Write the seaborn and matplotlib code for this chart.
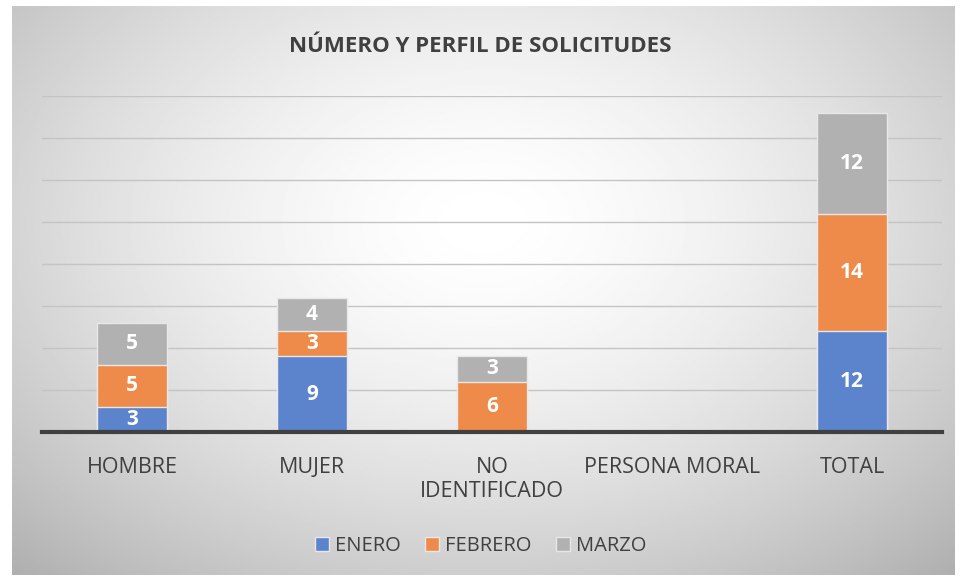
import numpy as np
import pandas as pd
import seaborn as sns
import matplotlib.pyplot as plt
from matplotlib.patches import Patch

# datos del grafico
categorias = ['HOMBRE', 'MUJER', 'NO\nIDENTIFICADO', 'PERSONA MORAL', 'TOTAL']
enero = [3, 9, 0, 0, 12]
febrero = [5, 3, 6, 0, 14]
marzo = [5, 4, 3, 0, 12]
meses = ['ENERO', 'FEBRERO', 'MARZO']
colores = ['#5b84cd', '#ee8b4a', '#b1b1b1']

sns.set_theme(style='white')
plt.rcParams['font.family'] = ['Open Sans', 'DejaVu Sans']

fig = plt.figure(figsize=(9.61, 5.8), dpi=100)

# fondo con degradado radial
bg = fig.add_axes([12 / 961, 5 / 580, 943 / 961, 569 / 580], zorder=0)
yy, xx = np.mgrid[0:1:300j, 0:1:500j]
r = np.sqrt(((xx - 0.5) / 0.75) ** 2 + ((yy - 0.38) / 0.85) ** 2)
grad = np.clip(1 - 0.32 * r ** 1.6, 0, 1)
bg.imshow(grad, cmap='gray', vmin=0, vmax=1, aspect='auto', extent=[0, 1, 0, 1], origin='upper')
bg.axis('off')

ax = fig.add_axes([42 / 961, 1 - 432 / 580, 900 / 961, 336 / 580], zorder=1)
ax.patch.set_alpha(0)

df = pd.DataFrame({'cat': categorias, 'ENERO': enero, 'FEBRERO': febrero, 'MARZO': marzo})
df['c1'] = df['ENERO']
df['c2'] = df['ENERO'] + df['FEBRERO']
df['c3'] = df['c2'] + df['MARZO']

# barras apiladas: primero el total, luego se tapan las capas de abajo
for col, color in zip(['c3', 'c2', 'c1'], colores[::-1]):
    sns.barplot(data=df, x='cat', y=col, color=color, width=0.39, ax=ax,
                edgecolor='#e8e8e8', linewidth=1, saturation=1, zorder=3)

# etiquetas de datos
for i in range(len(categorias)):
    base = 0
    for vals in [enero, febrero, marzo]:
        v = vals[i]
        if v > 0:
            ax.text(i, base + v / 2, str(v), ha='center', va='center', color='white',
                    fontsize=15, fontweight='bold', zorder=5)
        base += v

ax.set_xlim(-0.5, 4.5)
ax.set_ylim(0, 40)
ax.set_yticks(range(0, 41, 5))
ax.set_yticklabels([])
ax.yaxis.grid(True, color='#c4c4c4', linewidth=1)
ax.set_axisbelow(True)
for s in ['top', 'right', 'left']:
    ax.spines[s].set_visible(False)
ax.spines['bottom'].set_color('#404040')
ax.spines['bottom'].set_linewidth(3)
ax.spines['bottom'].set_zorder(6)
ax.tick_params(axis='x', length=0, pad=18, labelsize=15.5, labelcolor='#404040')
ax.tick_params(axis='y', length=0)
ax.set_xlabel('')
ax.set_ylabel('')

fig.text(0.5, 1 - 47 / 580, 'NÚMERO Y PERFIL DE SOLICITUDES', ha='center', va='center',
         fontsize=16, fontweight='bold', color='#404040')

handles = [Patch(facecolor=c, edgecolor='#e8e8e8', label=m) for m, c in zip(meses, colores)]
fig.legend(handles=handles, loc='center', bbox_to_anchor=(0.5, 1 - 546 / 580), ncol=3,
           frameon=False, fontsize=14.5, handlelength=0.7, handleheight=0.7,
           handletextpad=0.3, columnspacing=1.2, labelcolor='#404040')

fig.savefig('out.png', dpi=100)
